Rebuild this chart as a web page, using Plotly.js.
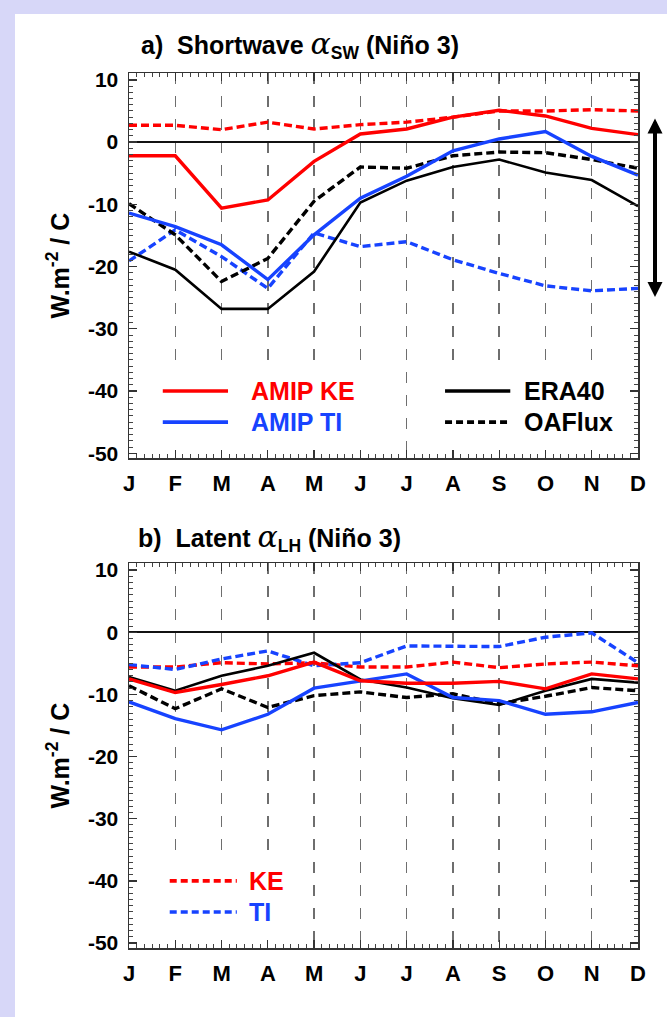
<!DOCTYPE html>
<html>
<head>
<meta charset="utf-8">
<script src="https://cdn.plot.ly/plotly-3.0.1.min.js"></script>
<style>
  html, body { margin: 0; padding: 0; background: #d7d7f8; width: 667px; height: 1017px; overflow: hidden; }
  #chart { position: absolute; left: 15px; top: 14px; width: 652px; height: 1003px; background: #ffffff; }
</style>
</head>
<body>
<div id="chart"></div>
<script>
// ---------- data ----------
const monthLabels = ['J','F','M','A','M','J','J','A','S','O','N','D'];
const monthIndex = [0,1,2,3,4,5,6,7,8,9,10,11];

// Panel a: Shortwave alpha_SW (Nino 3)
const swKE      = [-2.2, -2.2, -10.6, -9.3, -3.1, 1.3, 2.1, 4.0, 5.1, 4.2, 2.2, 1.2];
const swKEdot   = [2.7, 2.7, 2.0, 3.2, 2.1, 2.8, 3.2, 4.0, 5.0, 5.0, 5.2, 5.0];
const swTI      = [-11.4, -13.6, -16.5, -22.1, -14.9, -9.0, -5.5, -1.4, 0.5, 1.7, -2.3, -5.3];
const swTIdot   = [-19.1, -14.1, -18.4, -23.5, -14.6, -16.8, -16.0, -18.9, -21.1, -23.1, -23.9, -23.5];
const swERA40   = [-17.6, -20.5, -26.8, -26.8, -20.8, -9.7, -6.2, -4.0, -2.8, -4.9, -6.1, -10.3];
const swOAFlux  = [-9.9, -14.9, -22.4, -18.7, -9.5, -4.0, -4.2, -2.2, -1.6, -1.7, -2.8, -4.2];

// Panel b: Latent alpha_LH (Nino 3)
const lhKE      = [-7.5, -9.7, -8.4, -7.0, -4.8, -7.8, -8.2, -8.2, -7.9, -9.1, -6.7, -7.5];
const lhKEdot   = [-5.6, -5.6, -4.9, -5.1, -4.9, -5.6, -5.6, -4.8, -5.7, -5.1, -4.8, -5.4];
const lhTI      = [-11.2, -13.9, -15.7, -13.2, -9.0, -7.8, -6.7, -10.5, -11.0, -13.2, -12.8, -11.3];
const lhTIdot   = [-5.2, -6.0, -4.3, -3.0, -5.4, -4.9, -2.2, -2.2, -2.3, -0.8, -0.1, -4.9];
const lhERA40   = [-7.2, -9.4, -7.0, -5.4, -3.3, -7.6, -8.9, -10.6, -11.7, -9.4, -7.5, -8.1];
const lhOAFlux  = [-8.6, -12.3, -9.1, -12.1, -10.2, -9.6, -10.5, -9.9, -11.5, -10.3, -8.9, -9.4];

const yTickVals = [-50, -40, -30, -20, -10, 0, 10];
const yTickText = ['-50', '-40', '-30', '-20', '-10', '0', '10'];

// legend labels
const legendA1 = ['AMIP KE', 'AMIP TI'];
const legendA2 = ['ERA40', 'OAFlux'];
const legendB  = ['KE', 'TI'];

// ---------- styles ----------
const RED = '#ff0000', BLUE = '#1743ff', BLACK = '#000000';
const DOT = '8px,4px';
const FONT = 'Liberation Sans, Arial, Helvetica, sans-serif';

function tr(y, color, dash, width, xa, ya) {
  return { x: monthIndex, y: y, type: 'scatter', mode: 'lines',
           line: { color: color, width: width, dash: dash },
           xaxis: xa, yaxis: ya, showlegend: false, hoverinfo: 'skip' };
}

const traces = [
  tr(swKEdot, RED, DOT, 3.4, 'x', 'y'),
  tr(swTIdot, BLUE, DOT, 3.4, 'x', 'y'),
  tr(swOAFlux, BLACK, DOT, 3.4, 'x', 'y'),
  tr(swERA40, BLACK, 'solid', 2.6, 'x', 'y'),
  tr(swTI, BLUE, 'solid', 3.4, 'x', 'y'),
  tr(swKE, RED, 'solid', 3.4, 'x', 'y'),

  tr(lhKEdot, RED, DOT, 3.4, 'x2', 'y2'),
  tr(lhTIdot, BLUE, DOT, 3.4, 'x2', 'y2'),
  tr(lhOAFlux, BLACK, DOT, 3.4, 'x2', 'y2'),
  tr(lhERA40, BLACK, 'solid', 2.6, 'x2', 'y2'),
  tr(lhTI, BLUE, 'solid', 3.4, 'x2', 'y2'),
  tr(lhKE, RED, 'solid', 3.4, 'x2', 'y2')
];

function xAxis(anchor) {
  return {
    anchor: anchor, domain: [0, 1], range: [0, 11],
    tickmode: 'array', tickvals: monthIndex, ticktext: monthLabels,
    tickfont: { family: FONT, size: 22, color: '#000', weight: 'bold' },
    ticks: 'inside', ticklen: 8, tickwidth: 1.3, tickcolor: '#333',
    ticklabelstandoff: 5,
    minor: { tickmode: 'linear', tick0: 0, dtick: 1/6, ticks: 'inside', ticklen: 4, tickwidth: 1, tickcolor: '#444', showgrid: false },
    showgrid: true, gridcolor: '#6e6e6e', gridwidth: 1.5, griddash: '11px,12px',
    showline: true, linecolor: '#333', linewidth: 1.5, mirror: 'ticks',
    zeroline: false, fixedrange: true
  };
}
function yAxis(anchor, domain) {
  return {
    anchor: anchor, domain: domain, range: [-50.8, 11.1],
    tickmode: 'array', tickvals: yTickVals, ticktext: yTickText,
    tickfont: { family: FONT, size: 21, color: '#000', weight: 'bold' },
    ticks: 'inside', ticklen: 8, tickwidth: 1.3, tickcolor: '#333',
    ticklabelstandoff: 5,
    minor: { tickmode: 'linear', tick0: 0, dtick: 1, ticks: 'inside', ticklen: 4, tickwidth: 1, tickcolor: '#444', showgrid: false },
    showgrid: false,
    showline: true, linecolor: '#333', linewidth: 1.5, mirror: 'ticks',
    zeroline: true, zerolinecolor: '#111', zerolinewidth: 1.6,
    title: { text: 'W.m<sup>-2</sup> / C', font: { family: FONT, size: 25, color: '#000', weight: 'bold' }, standoff: 11 },
    automargin: false, fixedrange: true
  };
}

// legend boxes (white backgrounds hiding grid lines) and legend line samples
const shapes = [
  { type: 'rect', xref: 'x', yref: 'y', x0: 0.3, x1: 5.6, y0: -50.2, y1: -35.8, fillcolor: '#fff', line: { width: 0 }, layer: 'between' },
  { type: 'rect', xref: 'x', yref: 'y', x0: 6.4, x1: 10.7, y0: -50.2, y1: -35.8, fillcolor: '#fff', line: { width: 0 }, layer: 'between' },
  { type: 'rect', xref: 'x2', yref: 'y2', x0: 0.3, x1: 3.6, y0: -50.2, y1: -36.2, fillcolor: '#fff', line: { width: 0 }, layer: 'between' },

  { type: 'line', xref: 'x', yref: 'y', x0: 0.73, x1: 2.14, y0: -40, y1: -40, line: { color: RED, width: 3.6 } },
  { type: 'line', xref: 'x', yref: 'y', x0: 0.73, x1: 2.14, y0: -45, y1: -45, line: { color: BLUE, width: 3.6 } },
  { type: 'line', xref: 'x', yref: 'y', x0: 6.83, x1: 8.24, y0: -40, y1: -40, line: { color: BLACK, width: 3.6 } },
  { type: 'line', xref: 'x', yref: 'y', x0: 6.83, x1: 8.24, y0: -45, y1: -45, line: { color: BLACK, width: 3.6, dash: '7px,4px' } },

  { type: 'line', xref: 'x2', yref: 'y2', x0: 0.88, x1: 2.33, y0: -40, y1: -40, line: { color: RED, width: 3.6, dash: '7px,4px' } },
  { type: 'line', xref: 'x2', yref: 'y2', x0: 0.88, x1: 2.33, y0: -45, y1: -45, line: { color: BLUE, width: 3.6, dash: '7px,4px' } }
];

function label(text, color, x, y, xref, yref, size) {
  return { text: '<b>' + text + '</b>', x: x, y: y, xref: xref, yref: yref,
           xanchor: 'left', yanchor: 'middle', showarrow: false,
           font: { family: FONT, size: size || 25, color: color } };
}

const annotations = [
  { text: '<b>a)  Shortwave </b><span style="font-size:30px;font-family:DejaVu Serif"><i>α</i></span><sub><b>SW</b></sub><b> (Niño 3)</b>',
    x: 0.02, y: 1.032, xref: 'paper', yref: 'paper', xanchor: 'left', yanchor: 'middle', showarrow: false,
    font: { family: FONT, size: 25, color: '#000' } },
  { text: '<b>b)  Latent </b><span style="font-size:30px;font-family:DejaVu Serif"><i>α</i></span><sub><b>LH</b></sub><b> (Niño 3)</b>',
    x: 0.014, y: 0.4697, xref: 'paper', yref: 'paper', xanchor: 'left', yanchor: 'middle', showarrow: false,
    font: { family: FONT, size: 25, color: '#000' } },

  label(legendA1[0], RED, 2.6, -40, 'x', 'y'),
  label(legendA1[1], BLUE, 2.6, -45, 'x', 'y'),
  label(legendA2[0], BLACK, 8.5, -40, 'x', 'y'),
  label(legendA2[1], BLACK, 8.5, -45, 'x', 'y'),
  label(legendB[0], RED, 2.55, -40, 'x2', 'y2'),
  label(legendB[1], BLUE, 2.55, -45, 'x2', 'y2'),

  // double-headed range arrow to the right of panel a
  { text: '', x: 1.0334, y: 0.744, xref: 'paper', yref: 'paper',
    ax: 0, ay: -180, axref: 'pixel', ayref: 'pixel',
    showarrow: true, arrowside: 'end+start', arrowhead: 2, startarrowhead: 2,
    arrowsize: 0.75, startarrowsize: 0.75, arrowwidth: 4, arrowcolor: '#000',
    standoff: 0, startstandoff: 0 }
];

const layout = {
  width: 652, height: 1003,
  margin: { l: 114, r: 29, t: 59, b: 69 },
  paper_bgcolor: '#ffffff', plot_bgcolor: '#ffffff',
  showlegend: false,
  xaxis: xAxis('y'),
  yaxis: yAxis('x', [0.5597, 1]),
  xaxis2: xAxis('y2'),
  yaxis2: yAxis('x2', [0, 0.4397]),
  shapes: shapes,
  annotations: annotations,
  font: { family: FONT, color: '#000' }
};

Plotly.newPlot('chart', traces, layout, { displayModeBar: false, staticPlot: true });
</script>
</body>
</html>
